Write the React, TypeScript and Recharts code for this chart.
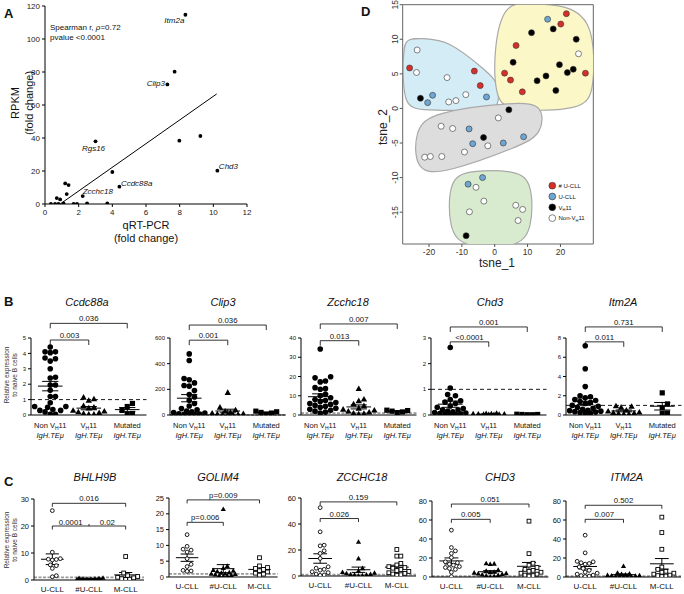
import React from "react";
import { ScatterChart, Scatter, XAxis, YAxis, ReferenceLine, ReferenceArea } from "recharts";

const FONT = "'Liberation Sans', Arial, Helvetica, sans-serif";

// ---------- A: qRT-PCR vs RPKM fold change ----------
const aGenes = ["Itm2a", "", "Clip3", "", "", "Chd3", "Rgs16", "", "Ccdc88a", "Zcchc18", "", "", "", "", "", "", "", "", "", "", "", "", ""];
const aQpcr = [8.34, 7.7, 7.27, 7.98, 9.23, 10.24, 3.0, 4.0, 4.42, 2.24, 1.2, 1.4, 1.29, 0.7, 0.9, 0.6, 0.8, 1.1, 1.7, 1.9, 2.5, 3.7, 0.35];
const aRpkm = [114.7, 80.2, 72.5, 38.4, 41.2, 20.2, 38, 19.4, 10.5, 4.8, 12.5, 11.5, 6, 3.6, 2.8, 0, 0, 0.4, 0, 0, 0.4, 0.4, 0];
const aFitX = [0.9, 10.2];
const aFitY = [0, 66.7];

// ---------- D: tSNE ----------
const redX = [-25.9, -6.2, -4.4, 21.8, 20.1, 6.5, 3.0, 4.8, 8.4, 27.6];
const redY = [5.85, 5.4, 3.3, 13.7, 12.2, 9.1, 5.1, 4.1, 2.4, 5.1];
const blueX = [-18.9, -20.4, -2.5, 16.1, -7.8, -6.7, 2.6, 8.8, -8.1, -3.7];
const blueY = [1.9, 0.84, 1.66, 12.9, -2.96, -5.1, -5.0, -4.1, -10.95, -10.0];
const blackX = [-22.6, 11.2, 17.8, 24.8, 5.6, 19.7, 22.1, 23.9, 15.6, 12.9, 18.6, 4.3, -3.4, -8.7];
const blackY = [1.47, 10.96, 11.5, 10.0, 6.67, 6.33, 5.18, 5.66, 4.7, 4.0, 2.6, -0.2, -4.2, -18.4];
const openX = [-23.6, -23.8, -14.5, -14.0, -11.8, -8.8, 25.5, 1.1, -16.3, -12.8, -2.1, -9.2, -21.3, -19.6, -16.1, -5.7, -3.3, -7.7, 6.4, 8.5, 7.1];
const openY = [8.45, 5.2, 4.46, 0.94, 1.13, 2.0, 7.9, -1.37, -2.57, -2.9, -5.4, -6.3, -7.05, -6.95, -6.95, -11.4, -13.4, -14.95, -14.0, -14.6, -16.2];

// cluster outlines (control points, closed)
const blueHullX = [-27.9, -27.4, -22, -14, -2.5, 1.4, 1.3, -3, -22, -27.9];
const blueHullY = [7.5, 10.2, 10.1, 9.9, 5.4, 3.6, -0.1, -0.3, -0.3, 0.2];
const yellowHullX = [0.1, -0.3, 3, 10, 22, 30.3, 30.4, 27, 4];
const yellowHullY = [1.5, 9, 15.2, 15.2, 15.0, 12.5, 2.5, -0.3, -0.4];
const grayHullX = [-24.3, -24.4, -19, 7, 15, 14.4, 8, -15];
const grayHullY = [-9.3, -3, -0.5, 1.0, 0.5, -3.7, -5.4, -9.4];
const greenHullX = [-14, -14, -9.5, 7, 11.5, 11.5, 7, -9.5];
const greenHullY = [-17.5, -10.8, -8.9, -8.9, -10.8, -17.5, -20.2, -20.2];

// ---------- B: mouse qRT-PCR ----------
const ccdc88aNon = [4.42, 4.1, 4.1, 4.05, 3.7, 3.65, 3.5, 3.0, 2.45, 2.4, 1.95, 1.95, 1.6, 1.2, 1.2, 0.8, 0.55, 0.55, 0.5, 0.35, 0.3, 0.3, 0.2, 0.05, 0.05];
const ccdc88aVh = [1.15, 1.05, 0.95, 0.6, 0.5, 0.45, 0.3, 0.25, 0.2, 0.15, 0.1, 0.05, 0.05];
const ccdc88aMut = [0.75, 0.55, 0.3, 0.1, 0.05];
const clip3Non = [476, 425, 285, 275, 250, 230, 225, 190, 160, 140, 115, 90, 70, 50, 40, 30, 25, 20, 15, 10, 8, 5, 5, 3];
const clip3Vh = [175, 60, 40, 30, 20, 15, 10, 8, 5, 5, 3, 2];
const clip3Mut = [30, 25, 20, 15, 5];
const zcchc18Non = [34.3, 19.9, 19.3, 17.7, 17.2, 14.2, 13.7, 13.4, 10.8, 10, 9, 8, 7.5, 7, 6.5, 6, 5.5, 5, 4.5, 4, 3.5, 3, 2.5, 2, 1.5, 1];
const zcchc18Vh = [13.7, 8.2, 7.4, 5.7, 4.8, 3.5, 3, 2.5, 2, 1.5, 1, 0.8, 0.5];
const zcchc18Mut = [2.5, 2.3, 2.0, 1.6, 1.2];
const chd3Non = [2.63, 1.05, 0.8, 0.75, 0.6, 0.55, 0.5, 0.45, 0.35, 0.3, 0.25, 0.2, 0.2, 0.15, 0.12, 0.1, 0.08, 0.06, 0.05, 0.04, 0.03, 0.02];
const chd3Vh = [0.06, 0.05, 0.04, 0.04, 0.03, 0.03, 0.02, 0.02, 0.01, 0.01];
const chd3Mut = [0.03, 0.02, 0.02, 0.01, 0.01];
const itm2aNon = [7.2, 4.8, 2.95, 2.0, 1.9, 1.8, 1.6, 1.5, 1.4, 1.3, 1.2, 1.0, 0.9, 0.8, 0.7, 0.6, 0.5, 0.45, 0.4, 0.35, 0.3, 0.25, 0.2, 0.15];
const itm2aVh = [0.95, 0.9, 0.8, 0.5, 0.4, 0.3, 0.25, 0.2, 0.15, 0.1, 0.1];
const itm2aMut = [2.3, 1.15, 0.75, 0.2, 0.15];

// ---------- C: human CLL ----------
const bhlh9bU = [25.7, 10.3, 7.9, 7.7, 7.6, 7.4, 5.6, 5.3, 4.3, 1.6, 1.2];
const bhlh9bHash = [0.8, 0.7, 0.6, 0.5, 0.5, 0.4, 0.4, 0.3, 0.3, 0.2, 0.2, 0.1, 0.1, 0.05];
const bhlh9bM = [8.7, 2.6, 1.6, 1.3, 1.0, 0.8, 0.5, 0.3, 0.2];
const golim4U = [13.4, 9.7, 8.8, 8.5, 7.9, 5.8, 4.0, 3.3, 2.1, 1.9, 1.8];
const golim4Hash = [21.5, 3.5, 2.8, 2.2, 2.0, 1.8, 1.5, 1.3, 1.1, 1.0, 0.9, 0.8, 0.6, 0.5, 0.4, 0.3];
const golim4M = [6.1, 3.5, 3.0, 2.7, 2.4, 2.0, 1.6, 1.2, 0.9, 0.6];
const zcchc18U = [52.6, 34, 23.7, 23.2, 19.4, 17.4, 13.5, 7.1, 6, 5.1, 4.5, 3.3, 2.6, 1.5, 0.8, 0.5];
const zcchc18Hash = [26.3, 13.5, 6, 4, 3, 2.5, 2, 1.5, 1.2, 1, 0.8, 0.5, 0.3];
const zcchc18M = [20.4, 15.3, 15.3, 9.7, 8.5, 7.2, 6.5, 6, 5, 4.2, 3.5, 2.5, 2, 1.5, 1, 0.6];
const chd3U = [49.3, 31, 27.5, 24.8, 20.5, 16, 15, 13.5, 12.5, 11, 10, 9, 8, 5, 0.5];
const chd3Hash = [14.3, 14.0, 13.6, 7.5, 6.5, 5.5, 5, 4.5, 4, 3.5, 3, 2.5, 2, 1.5, 1, 0.5];
const chd3M = [58.8, 24.6, 14.5, 12.5, 10, 8, 7, 6, 5, 4, 3, 2, 1.5, 1];
const itm2aU = [44, 25.4, 16.5, 16, 15, 14.2, 13.5, 10.6, 9, 7, 5, 4, 3, 2, 1.5, 1, 0.5];
const itm2aHash = [11.6, 4.5, 3.5, 3, 2.5, 2, 1.8, 1.5, 1.2, 1, 0.8, 0.6, 0.4, 0.2];
const itm2aM = [63, 46.8, 29.2, 10.5, 8, 6, 5, 4, 3, 2, 1.5, 1, 0.5];

const cCats = ["U-CLL", "#U-CLL", "M-CLL"];

// label placement for the named genes in A
const aLabelPlace: Record<string, { dx: number; dy: number; anchor: string }> = {
  Itm2a: { dx: -1, dy: 8, anchor: "end" },
  Clip3: { dx: -2.5, dy: 2, anchor: "end" },
  Rgs16: { dx: -2, dy: 10, anchor: "middle" },
  Chd3: { dx: 1.5, dy: -2, anchor: "start" },
  Ccdc88a: { dx: 1.5, dy: -1, anchor: "start" },
  Zcchc18: { dx: 0, dy: -2, anchor: "start" },
};

type Marker = "dot" | "tri" | "sq" | "odot" | "osq";
type Bracket = { a: number; b: number; level: number; label: string | string[]; mid?: number };
type Plot = {
  title: string;
  groups: number[][];
  markers: Marker[];
  yMax: number;
  yTicks: number[];
  brackets: Bracket[];
  gray: boolean;
};

const bPlots: Plot[] = [
  { title: "Ccdc88a", groups: [ccdc88aNon, ccdc88aVh, ccdc88aMut], markers: ["dot", "tri", "sq"], yMax: 5, yTicks: [0, 1, 2, 3, 4, 5], gray: false,
    brackets: [{ a: 0, b: 2, level: 5.95, label: "0.036" }, { a: 0, b: 1, level: 4.87, label: "0.003" }] },
  { title: "Clip3", groups: [clip3Non, clip3Vh, clip3Mut], markers: ["dot", "tri", "sq"], yMax: 600, yTicks: [0, 200, 400, 600], gray: true,
    brackets: [{ a: 0, b: 2, level: 701, label: "0.036" }, { a: 0, b: 1, level: 583, label: "0.001" }] },
  { title: "Zcchc18", groups: [zcchc18Non, zcchc18Vh, zcchc18Mut], markers: ["dot", "tri", "sq"], yMax: 40, yTicks: [0, 10, 20, 30, 40], gray: true,
    brackets: [{ a: 0, b: 2, level: 47.3, label: "0.007" }, { a: 0, b: 1, level: 38.6, label: "0.013" }] },
  { title: "Chd3", groups: [chd3Non, chd3Vh, chd3Mut], markers: ["dot", "tri", "sq"], yMax: 3, yTicks: [0, 1, 2, 3], gray: false,
    brackets: [{ a: 0, b: 2, level: 3.43, label: "0.001" }, { a: 0, b: 1, level: 2.85, label: "<0.0001" }] },
  { title: "Itm2A", groups: [itm2aNon, itm2aVh, itm2aMut], markers: ["dot", "tri", "sq"], yMax: 8, yTicks: [0, 2, 4, 6, 8], gray: false,
    brackets: [{ a: 0, b: 2, level: 9.15, label: "0.731" }, { a: 0, b: 1, level: 7.6, label: "0.011" }] },
];

const cPlots: Plot[] = [
  { title: "BHLH9B", groups: [bhlh9bU, bhlh9bHash, bhlh9bM], markers: ["odot", "tri", "osq"], yMax: 30, yTicks: [0, 10, 20, 30], gray: true,
    brackets: [{ a: 0, b: 2, level: 28.4, label: "0.016" }, { a: 0, b: 2, level: 20, label: ["0.0001", "0.02"], mid: 1 }] },
  { title: "GOLIM4", groups: [golim4U, golim4Hash, golim4M], markers: ["odot", "tri", "osq"], yMax: 25, yTicks: [0, 5, 10, 15, 20, 25], gray: true,
    brackets: [{ a: 0, b: 2, level: 24.4, label: "p=0.009" }, { a: 0, b: 1, level: 17.3, label: "p=0.006" }] },
  { title: "ZCCHC18", groups: [zcchc18U, zcchc18Hash, zcchc18M], markers: ["odot", "tri", "osq"], yMax: 60, yTicks: [0, 20, 40, 60], gray: true,
    brackets: [{ a: 0, b: 2, level: 57, label: "0.159" }, { a: 0, b: 1, level: 44.2, label: "0.026" }] },
  { title: "CHD3", groups: [chd3U, chd3Hash, chd3M], markers: ["odot", "tri", "osq"], yMax: 80, yTicks: [0, 20, 40, 60, 80], gray: true,
    brackets: [{ a: 0, b: 2, level: 76.8, label: "0.051" }, { a: 0, b: 1, level: 60.7, label: "0.005" }] },
  { title: "ITM2A", groups: [itm2aU, itm2aHash, itm2aM], markers: ["odot", "tri", "osq"], yMax: 80, yTicks: [0, 20, 40, 60, 80], gray: true,
    brackets: [{ a: 0, b: 2, level: 75.5, label: "0.502" }, { a: 0, b: 1, level: 60.7, label: "0.007" }] },
];

// layout of the small panels (page pixels)
const bLefts = [31, 170.3, 301, 430.5, 566];
const cLefts = [33.5, 168.6, 300.9, 432.3, 565.9];
const cWidths = [110, 108.6, 115, 116.4, 115];
const cTops = [499, 498, 498, 501, 501];
const cBottoms = [580, 577, 576, 577, 577];

// simple deterministic beeswarm: offsets in category units
function swarm(values: number[], pxPerY: number, pxPerX: number, d: number): number[] {
  const order = values.map((_, i) => i).sort((a, b) => values[a] - values[b]);
  const placed: [number, number][] = [];
  const out = values.map(() => 0);
  const maxOff = pxPerX * 0.42;
  for (const i of order) {
    const py = values[i] * pxPerY;
    let best = 0;
    let bestScore = -1;
    for (let k = 0; k < 80; k++) {
      const off = (k % 2 ? 1 : -1) * Math.ceil(k / 2) * d * 0.5;
      if (Math.abs(off) > maxOff) break;
      const score = Math.min(d, ...placed.map(([x, y]) => Math.hypot(x - off, y - py)));
      if (score > bestScore + 1e-6) {
        best = off;
        bestScore = score;
      }
      if (score >= d) break;
    }
    placed.push([best, py]);
    out[i] = best / pxPerX;
  }
  return out;
}

const meanSem = (v: number[]) => {
  const m = v.reduce((s, x) => s + x, 0) / v.length;
  const sd = Math.sqrt(v.reduce((s, x) => s + (x - m) * (x - m), 0) / (v.length - 1));
  return { m, s: sd / Math.sqrt(v.length) };
};

const markerShape = (kind: Marker, big: boolean) => (p: any) => {
  const { cx, cy } = p;
  if (cx == null || cy == null) return <g />;
  if (kind === "dot") return <circle cx={cx} cy={cy} r={2.8} fill="#000" />;
  if (kind === "odot") return <circle cx={cx} cy={cy} r={1.9} fill="#fff" stroke="#000" strokeWidth={0.9} />;
  if (kind === "sq") return <rect x={cx - 2.6} y={cy - 2.6} width={5.2} height={5.2} fill="#000" />;
  if (kind === "osq") return <rect x={cx - 1.9} y={cy - 1.9} width={3.8} height={3.8} fill="#fff" stroke="#000" strokeWidth={0.9} />;
  const h = big ? 3.2 : 2.6;
  return <polygon points={`${cx},${cy - h} ${cx - h},${cy + h * 0.75} ${cx + h},${cy + h * 0.75}`} fill="#000" />;
};

const bracketShape = (br: Bracket, tick: number, fs: number) => (p: any) => {
  const { x1, x2, y1 } = p;
  let d = `M${x1},${y1 + tick}V${y1}H${x2}V${y1 + tick}`;
  const texts: React.ReactNode[] = [];
  const tp = { fontSize: fs, fontFamily: FONT, fill: "#111", textAnchor: "middle" as const };
  if (Array.isArray(br.label)) {
    const xm = x1 + ((x2 - x1) * ((br.mid ?? 1) - br.a)) / (br.b - br.a);
    d += `M${xm},${y1}V${y1 - 2}`;
    texts.push(<text key="l" x={(x1 + xm) / 2} y={y1 - 1.5} {...tp}>{br.label[0]}</text>);
    texts.push(<text key="r" x={(xm + x2) / 2} y={y1 - 1.5} {...tp}>{br.label[1]}</text>);
  } else {
    texts.push(<text key="c" x={(x1 + x2) / 2} y={y1 - 2} {...tp}>{br.label}</text>);
  }
  return (
    <g>
      <path d={d} fill="none" stroke="#000" strokeWidth={0.8} />
      {texts}
    </g>
  );
};

// x tick renderers; p.y is the axis line (tickSize and tickMargin are 0)
const bTick = (p: any) => {
  const i = p.payload.value;
  const first =
    i === 0 ? (
      <>Non V<tspan fontSize={5} dy={2}>H</tspan><tspan dy={-2}>11</tspan></>
    ) : i === 1 ? (
      <>V<tspan fontSize={5} dy={2}>H</tspan><tspan dy={-2}>11</tspan></>
    ) : (
      "Mutated"
    );
  return (
    <g>
      <text x={p.x} y={p.y + 12.5} textAnchor="middle" fontSize={7.5} fontFamily={FONT} fill="#111">{first}</text>
      <text x={p.x} y={p.y + 22.5} textAnchor="middle" fontSize={7.5} fontStyle="italic" fontFamily={FONT} fill="#111">IgH.TEμ</text>
    </g>
  );
};

const cTick = (p: any) => (
  <text x={p.x} y={p.y + 12} textAnchor="middle" fontSize={8} fontFamily={FONT} fill="#111">{cCats[p.payload.value]}</text>
);

type DotProps = {
  plot: Plot;
  left: number;
  width: number;
  top: number;
  bottom: number;
  cellTop: number;
  cellBottom: number;
  big: boolean;
};

const YW = 30;

function DotPlot({ plot, left, width, top, bottom, cellTop, cellBottom, big }: DotProps) {
  const pxPerY = (bottom - top) / plot.yMax;
  const pxPerX = width / 3;
  const d = big ? 5.2 : 4.0;
  const meanHalf = big ? 0.32 : 0.31;
  const capHalf = big ? 0.21 : 0.18;
  const ref = plot.gray
    ? { stroke: "#9a9a9a", strokeWidth: 1.8, strokeDasharray: "3 1.5" }
    : { stroke: "#000", strokeWidth: 0.9, strokeDasharray: "4 3" };
  return (
    <div style={{ position: "absolute", left: left - YW, top: cellTop }}>
      <ScatterChart
        width={YW + width + 6}
        height={cellBottom - cellTop}
        margin={{ top: top - cellTop, right: 6, bottom: 0, left: 0 }}
      >
        <XAxis type="number" dataKey="x" domain={[-0.5, 2.5]} ticks={[0, 1, 2]} interval={0} allowDataOverflow
          height={cellBottom - bottom} tickLine={false} tickSize={0} tickMargin={0} stroke="#000" tick={big ? bTick : cTick} />
        <YAxis type="number" dataKey="y" domain={[0, plot.yMax]} ticks={plot.yTicks} interval={0} allowDataOverflow
          width={YW} tickSize={3} stroke="#000" tick={{ fontSize: big ? 6 : 7.5, fill: "#111", fontFamily: FONT }} />
        <ReferenceLine y={1} ifOverflow="visible" {...ref} />
        {plot.groups.map((vals, g) => {
          const offs = swarm(vals, pxPerY, pxPerX, d);
          const data = vals.map((v, j) => ({ x: g + offs[j], y: v }));
          return <Scatter key={g} data={data} shape={markerShape(plot.markers[g], big)} isAnimationActive={false} />;
        })}
        {plot.groups.map((vals, g) => {
          const { m, s } = meanSem(vals);
          return [
            <ReferenceLine key={`m${g}`} segment={[{ x: g - meanHalf, y: m }, { x: g + meanHalf, y: m }]} ifOverflow="visible" stroke="#000" strokeWidth={1} />,
            <ReferenceLine key={`v${g}`} segment={[{ x: g, y: Math.max(0, m - s) }, { x: g, y: m + s }]} ifOverflow="visible" stroke="#000" strokeWidth={1} />,
            <ReferenceLine key={`t${g}`} segment={[{ x: g - capHalf, y: m + s }, { x: g + capHalf, y: m + s }]} ifOverflow="visible" stroke="#000" strokeWidth={1} />,
            <ReferenceLine key={`b${g}`} segment={[{ x: g - capHalf, y: Math.max(0, m - s) }, { x: g + capHalf, y: Math.max(0, m - s) }]} ifOverflow="visible" stroke="#000" strokeWidth={1} />,
          ];
        })}
        {plot.brackets.map((br, k) => (
          <ReferenceLine key={`br${k}`} segment={[{ x: br.a, y: br.level }, { x: br.b, y: br.level }]} ifOverflow="visible"
            shape={bracketShape(br, big ? 5 : 3.5, 7.8)} />
        ))}
      </ScatterChart>
    </div>
  );
}

const aDot = (p: any) => {
  const { cx, cy, payload } = p;
  const place = aLabelPlace[payload.gene];
  return (
    <g>
      <circle cx={cx} cy={cy} r={1.9} fill="#000" />
      {place ? (
        <text x={cx + place.dx} y={cy + place.dy} textAnchor={place.anchor as any} fontSize={8} fontStyle="italic" fontFamily={FONT} fill="#111">
          {payload.gene}
        </text>
      ) : null}
    </g>
  );
};

function PanelA() {
  const data = aQpcr.map((x, i) => ({ x, y: aRpkm[i], gene: aGenes[i] }));
  return (
    <div style={{ position: "absolute", left: 0, top: 0 }}>
      <ScatterChart width={260} height={250} margin={{ top: 6, right: 13, bottom: 6, left: 0 }}>
        <XAxis type="number" dataKey="x" domain={[0, 12]} ticks={[0, 2, 4, 6, 8, 10, 12]} interval={0} allowDataOverflow
          height={40} tickSize={3} stroke="#000" tick={{ fontSize: 8, fill: "#222", fontFamily: FONT }} />
        <YAxis type="number" dataKey="y" domain={[0, 120]} ticks={[0, 20, 40, 60, 80, 100, 120]} interval={0} allowDataOverflow
          width={45} tickSize={3} stroke="#000" tick={{ fontSize: 8, fill: "#222", fontFamily: FONT }} />
        <ReferenceLine segment={[{ x: aFitX[0], y: aFitY[0] }, { x: aFitX[1], y: aFitY[1] }]} ifOverflow="visible" stroke="#000" strokeWidth={1} />
        <Scatter data={data} shape={aDot} isAnimationActive={false} />
      </ScatterChart>
    </div>
  );
}

const dSeries = [
  { name: "open", xs: openX, ys: openY, fill: "#ffffff" },
  { name: "blue", xs: blueX, ys: blueY, fill: "#6ea7d4" },
  { name: "red", xs: redX, ys: redY, fill: "#d7302b" },
  { name: "black", xs: blackX, ys: blackY, fill: "#000000" },
];

const hulls = [
  { xs: blueHullX, ys: blueHullY, fill: "#d4ecf6" },
  { xs: yellowHullX, ys: yellowHullY, fill: "#fbf7c6" },
  { xs: grayHullX, ys: grayHullY, fill: "#dddddd" },
  { xs: greenHullX, ys: greenHullY, fill: "#d9ebcf" },
];

const dYTick = (p: any) => (
  <text x={p.x} y={p.y} transform={`rotate(-90 ${p.x} ${p.y})`} textAnchor="middle" fontSize={8.5} fill="#333" fontFamily={FONT}>
    {p.payload.value}
  </text>
);

function PanelD() {
  return (
    <div style={{ position: "absolute", left: 360, top: 0 }}>
      <ScatterChart width={324} height={290} margin={{ top: 4.7, right: 90.7, bottom: 16, left: 0 }}>
        <XAxis type="number" dataKey="x" domain={[-28, 30]} ticks={[-20, -10, 0, 10, 20]} interval={0} allowDataOverflow
          height={30} tickSize={3} axisLine={false} stroke="#555" tick={{ fontSize: 8.5, fill: "#333", fontFamily: FONT }} />
        <YAxis type="number" dataKey="y" domain={[-19.6, 15]} ticks={[-15, -10, -5, 0, 5, 10, 15]} interval={0} allowDataOverflow
          width={42.7} tickSize={3} axisLine={false} stroke="#555" tick={dYTick} />
        {hulls.map((h, i) => (
          <Scatter key={`h${i}`} data={h.xs.map((x, j) => ({ x, y: h.ys[j] }))} line={{ fill: h.fill, stroke: "#a9a9a9", strokeWidth: 1.2 }}
            lineJointType="basisClosed" shape={() => <g />} isAnimationActive={false} />
        ))}
        {dSeries.map((s) => (
          <Scatter key={s.name} data={s.xs.map((x, j) => ({ x, y: s.ys[j] }))} isAnimationActive={false}
            shape={(p: any) => <circle cx={p.cx} cy={p.cy} r={3} fill={s.fill} stroke="#333" strokeWidth={0.6} />} />
        ))}
        <ReferenceArea x1={-28} x2={30} y1={-19.6} y2={15} fill="none" stroke="#666" strokeWidth={1} ifOverflow="visible" />
      </ScatterChart>
    </div>
  );
}

const T = (props: any) => <text fontFamily={FONT} fill="#111" {...props} />;

export default function App() {
  return (
    <div style={{ position: "absolute", left: 0, top: 0, width: 684, height: 594, background: "#fff", overflow: "hidden" }}>
      <PanelA />
      <PanelD />
      {bPlots.map((p, i) => (
        <DotPlot key={p.title} plot={p} left={bLefts[i]} width={115.5} top={338} bottom={415} cellTop={290} cellBottom={446} big />
      ))}
      {cPlots.map((p, i) => (
        <DotPlot key={p.title} plot={p} left={cLefts[i]} width={cWidths[i]} top={cTops[i]} bottom={cBottoms[i]} cellTop={446} cellBottom={594} big={false} />
      ))}
      <svg width={684} height={594} style={{ position: "absolute", left: 0, top: 0, pointerEvents: "none" }}>
        {/* panel A text */}
        <T x={4} y={18} fontSize={13} fontWeight="bold">A</T>
        <T x={50} y={29.5} fontSize={8}>Spearman r, <tspan fontStyle="italic">ρ</tspan>=0.72</T>
        <T x={50} y={40} fontSize={8}>pvalue &lt;0.0001</T>
        <T x={19} y={103} fontSize={11} textAnchor="middle" transform="rotate(-90 19 103)">RPKM</T>
        <T x={33} y={103} fontSize={11} textAnchor="middle" transform="rotate(-90 33 103)">(fold change)</T>
        <T x={146} y={229} fontSize={11} textAnchor="middle">qRT-PCR</T>
        <T x={146} y={242} fontSize={11} textAnchor="middle">(fold change)</T>
        {/* panel D text */}
        <T x={361} y={16} fontSize={13} fontWeight="bold">D</T>
        <T x={387} y={127} fontSize={12} textAnchor="middle" transform="rotate(-90 387 127)" fill="#222">tsne_2</T>
        <T x={497} y={267} fontSize={12} textAnchor="middle" fill="#222">tsne_1</T>
        {[
          { c: "#d7302b", t: <># U-CLL</> },
          { c: "#6ea7d4", t: <>U-CLL</> },
          { c: "#000000", t: <>V<tspan fontSize={4} dy={1.5}>H</tspan><tspan dy={-1.5}>11</tspan></> },
          { c: "#ffffff", t: <>Non-V<tspan fontSize={4} dy={1.5}>H</tspan><tspan dy={-1.5}>11</tspan></> },
        ].map((it, i) => (
          <g key={i}>
            <circle cx={552.3} cy={185.7 + i * 10.8} r={3.4} fill={it.c} stroke="#333" strokeWidth={0.6} />
            <T x={558.5} y={185.7 + i * 10.8 + 2.2} fontSize={6}>{it.t}</T>
          </g>
        ))}
        {/* panel B text */}
        <T x={4} y={306} fontSize={13} fontWeight="bold">B</T>
        {["Ccdc88a", "Clip3", "Zcchc18", "Chd3", "Itm2A"].map((t, i) => (
          <T key={t} x={[87, 223, 348, 490, 623][i]} y={306} fontSize={11} fontStyle="italic" textAnchor="middle">{t}</T>
        ))}
        <T x={9} y={375} fontSize={6.5} textAnchor="middle" transform="rotate(-90 9 375)" fill="#333">Relative expression</T>
        <T x={16.5} y={375} fontSize={6.5} textAnchor="middle" transform="rotate(-90 16.5 375)" fill="#333">to naive B cells</T>
        {/* panel C text */}
        <T x={4} y={486} fontSize={13} fontWeight="bold">C</T>
        {["BHLH9B", "GOLIM4", "ZCCHC18", "CHD3", "ITM2A"].map((t, i) => (
          <T key={t} x={[95, 218, 362, 500, 627][i]} y={481} fontSize={11} fontStyle="italic" textAnchor="middle">{t}</T>
        ))}
        <T x={9} y={540} fontSize={6.5} textAnchor="middle" transform="rotate(-90 9 540)" fill="#333">Relative expression</T>
        <T x={16.5} y={540} fontSize={6.5} textAnchor="middle" transform="rotate(-90 16.5 540)" fill="#333">to naive B cells</T>
      </svg>
    </div>
  );
}
